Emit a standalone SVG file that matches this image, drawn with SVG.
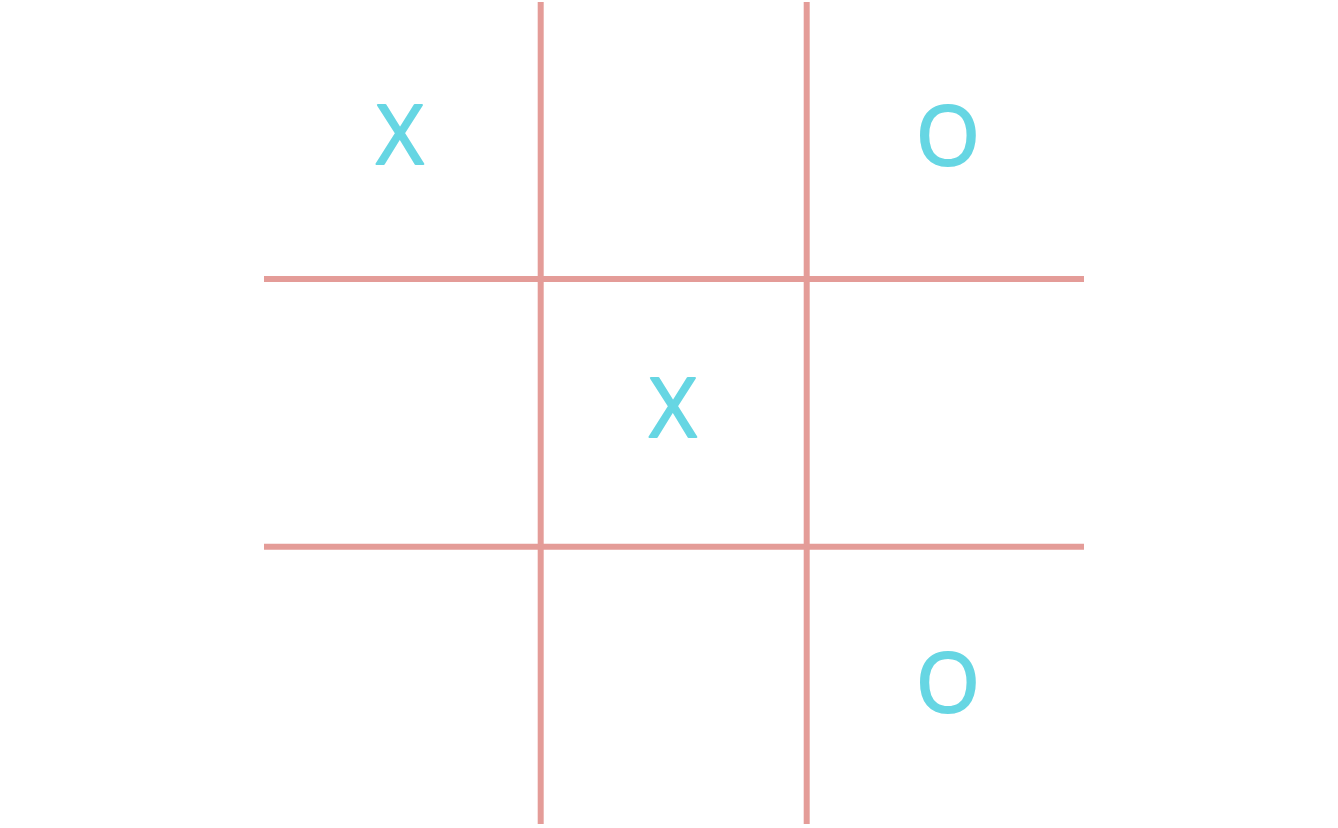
<svg xmlns="http://www.w3.org/2000/svg" width="1338" height="828" viewBox="0 0 1338 828">
  <style>
    .grid line { stroke: #E49C98; stroke-width: 6; }
    .mark { font-family: "Open Sans", "Liberation Sans", sans-serif; font-size: 82px; fill: #66D6E3; stroke: #66D6E3; stroke-width: 2; stroke-linejoin: round; text-anchor: middle; }
  </style>
  <rect width="1338" height="828" fill="#FFFFFF"/>
  <g id="grid" class="grid">
    <line x1="540.7" y1="2" x2="540.7" y2="824"/>
    <line x1="806.7" y1="2" x2="806.7" y2="824"/>
    <line x1="264" y1="279" x2="1084" y2="279"/>
    <line x1="264" y1="546.7" x2="1084" y2="546.7"/>
  </g>
  <g id="cell-1-1"><text class="mark" x="400" y="164">X</text></g>
  <g id="cell-1-3"><text class="mark" x="948" y="165">O</text></g>
  <g id="cell-2-2"><text class="mark" x="673" y="437">X</text></g>
  <g id="cell-3-3"><text class="mark" x="948" y="712">O</text></g>
</svg>
